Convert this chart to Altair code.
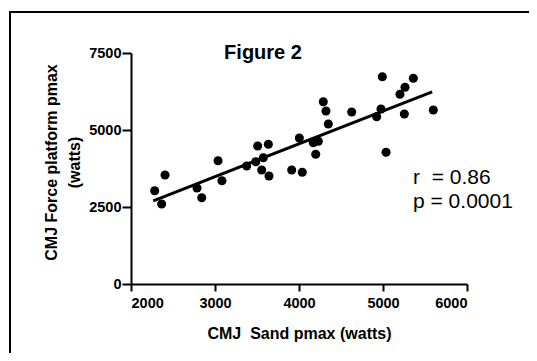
import altair as alt
import pandas as pd

# Scatter data
sand_pmax = [2282, 2365, 2405, 2786, 2842, 3036, 3083, 3377, 3485, 3508, 3575,
             3556, 3635, 3643, 3913, 4004, 4039, 4170, 4230, 4199, 4289, 4321,
             4349, 4627, 4925, 4976, 4992, 5036, 5202, 5262, 5254, 5361, 5599]
force_pmax = [3029, 2597, 3539, 3117, 2802, 4003, 3354, 3831, 3971, 4481, 4101,
              3701, 4536, 3506, 3701, 4740, 3627, 4588, 4633, 4211, 5919, 5617,
              5195, 5584, 5432, 5682, 6731, 4276, 6159, 6386, 5519, 6678, 5649]

# Regression line end points
fit_x = [2265, 5585]
fit_y = [2700, 6240]

x_ticks = [2000, 3000, 4000, 5000, 6000]
y_ticks = [0, 2500, 5000, 7500]

chart_title = "Figure 2"
stats_text = ["r\u00a0\u00a0= 0.86", "p = 0.0001"]
x_title = "CMJ\u00a0\u00a0Sand pmax (watts)"
y_title = ["CMJ Force platform pmax", "(watts)"]

FONT = "Liberation Sans"

pts = pd.DataFrame({"sand": sand_pmax, "force": force_pmax})
fit = pd.DataFrame({"sand": fit_x, "force": fit_y})
one = pd.DataFrame({"k": [0]})

xscale = alt.Scale(domain=[2000, 6000], nice=False, zero=False)
yscale = alt.Scale(domain=[0, 7500], nice=False)

xaxis = alt.Axis(values=x_ticks, format="d", title=x_title, grid=False,
                 domainColor="black", domainWidth=2, tickColor="black",
                 tickWidth=2, tickSize=7, labelPadding=5,
                 labelFont=FONT, labelFontSize=14.5, labelFontWeight="bold",
                 labelColor="black", titleFont=FONT, titleFontSize=16,
                 titleFontWeight="bold", titleColor="black",
                 titleBaseline="alphabetic", titleY=54)
yaxis = alt.Axis(values=y_ticks, format="d", title=y_title, grid=False,
                 domainColor="black", domainWidth=2, tickColor="black",
                 tickWidth=2, tickSize=9, labelPadding=1,
                 labelFont=FONT, labelFontSize=14.5, labelFontWeight="bold",
                 labelColor="black", titleFont=FONT, titleFontSize=16,
                 titleFontWeight="bold", titleColor="black",
                 titleLineHeight=23, titleBaseline="alphabetic",
                 titleX=-75, titleY=109, titleAlign="center", titleAngle=270)

points = alt.Chart(pts).mark_circle(size=82, color="black", opacity=1).encode(
    x=alt.X("sand:Q", scale=xscale, axis=xaxis),
    y=alt.Y("force:Q", scale=yscale, axis=yaxis),
)

line = alt.Chart(fit).mark_line(color="black", strokeWidth=3).encode(
    x=alt.X("sand:Q", scale=xscale),
    y=alt.Y("force:Q", scale=yscale),
)

title_txt = alt.Chart(one).mark_text(
    text=chart_title, font=FONT, fontSize=20, fontWeight="bold",
    color="black", align="center", baseline="alphabetic"
).encode(x=alt.value(132), y=alt.value(5.5))

stats_txt = alt.Chart(one).mark_text(
    text=stats_text, font=FONT, fontSize=21, color="black",
    align="left", baseline="alphabetic", lineHeight=24
).encode(x=alt.value(282), y=alt.value(131))

frame_left = alt.Chart(one).mark_rule(color="black", strokeWidth=2, clip=False).encode(
    x=alt.value(-121), y=alt.value(-42), y2=alt.value(330))
frame_top = alt.Chart(one).mark_rule(color="black", strokeWidth=2, clip=False).encode(
    x=alt.value(-122), x2=alt.value(420), y=alt.value(-41))

chart = alt.layer(frame_left, frame_top, line, points, title_txt, stats_txt).properties(
    width=336, height=231,
    autosize=alt.AutoSizeParams(type="none"),
    padding={"left": 123, "top": 45, "right": 62, "bottom": 69},
    background="white",
).configure_view(stroke=None)

chart.save("out.html", embed_options={"renderer": "svg", "actions": False})
